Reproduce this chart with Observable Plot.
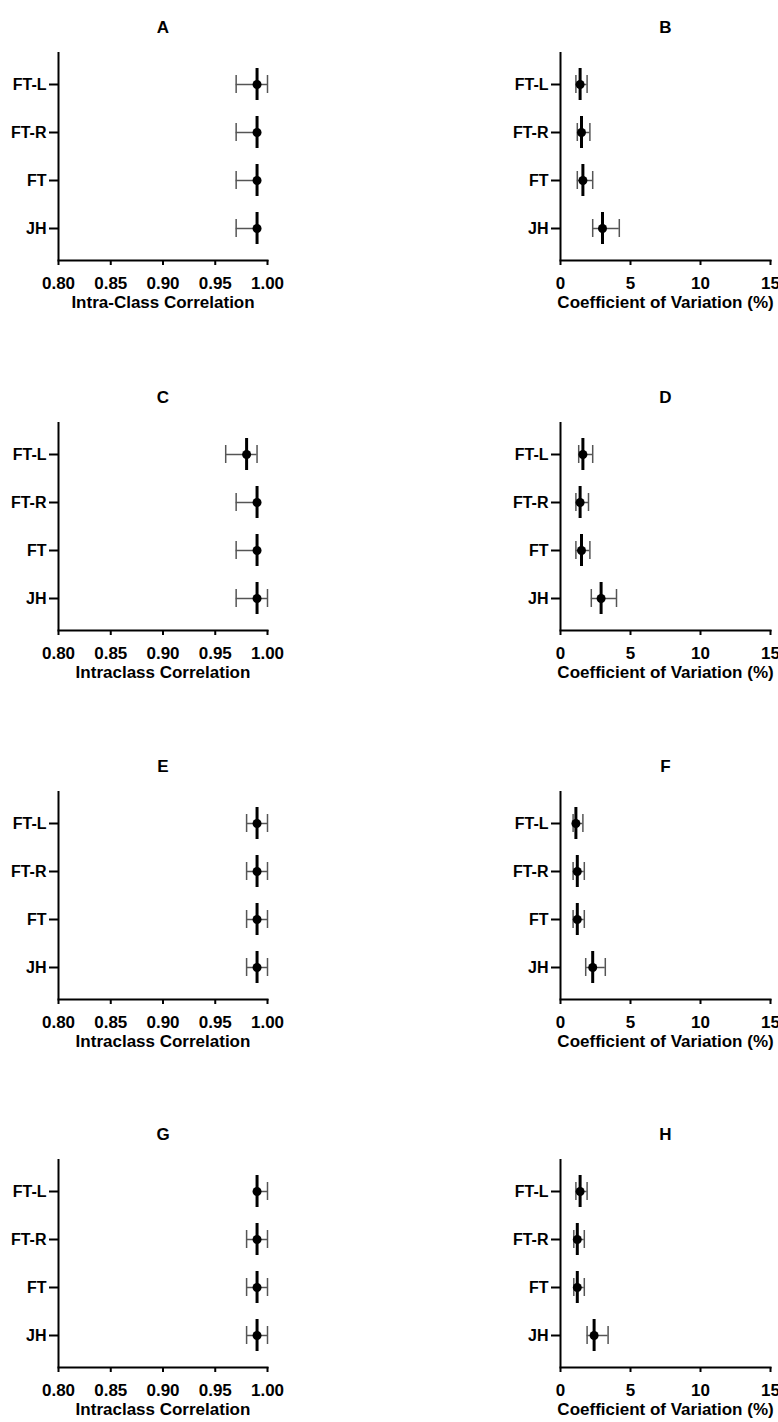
<!DOCTYPE html>
<html>
<head>
<meta charset="utf-8">
<script src="https://cdn.jsdelivr.net/npm/d3@7"></script>
<script src="https://cdn.jsdelivr.net/npm/@observablehq/plot@0.6"></script>
<style>
  html, body { margin: 0; padding: 0; background: #fff; }
  #fig { position: relative; width: 778px; height: 1422px; background: #fff; }
  .panel { position: absolute; }
</style>
</head>
<body>
<div id="fig"></div>
<script>
// ---------- data ----------
const categories = ["FT-L", "FT-R", "FT", "JH"];

const letters = ["A", "B", "C", "D", "E", "F", "G", "H"];
const xLabels = [
  "Intra-Class Correlation", "Coefficient of Variation (%)",
  "Intraclass Correlation", "Coefficient of Variation (%)",
  "Intraclass Correlation", "Coefficient of Variation (%)",
  "Intraclass Correlation", "Coefficient of Variation (%)"
];

const iccTicks = [0.80, 0.85, 0.90, 0.95, 1.00];
const cvTicks = [0, 5, 10, 15];

// ICC panels (A, C, E, G): estimate, lower, upper for FT-L, FT-R, FT, JH
const A_est = [0.99, 0.99, 0.99, 0.99];
const A_lo  = [0.97, 0.97, 0.97, 0.97];
const A_hi  = [1.00, 0.99, 0.99, 0.99];

const C_est = [0.98, 0.99, 0.99, 0.99];
const C_lo  = [0.96, 0.97, 0.97, 0.97];
const C_hi  = [0.99, 0.99, 0.99, 1.00];

const E_est = [0.99, 0.99, 0.99, 0.99];
const E_lo  = [0.98, 0.98, 0.98, 0.98];
const E_hi  = [1.00, 1.00, 1.00, 1.00];

const G_est = [0.99, 0.99, 0.99, 0.99];
const G_lo  = [0.99, 0.98, 0.98, 0.98];
const G_hi  = [1.00, 1.00, 1.00, 1.00];

// CV panels (B, D, F, H)
const B_est = [1.4, 1.5, 1.6, 3.0];
const B_lo  = [1.1, 1.2, 1.2, 2.3];
const B_hi  = [1.9, 2.1, 2.3, 4.2];

const D_est = [1.6, 1.4, 1.5, 2.9];
const D_lo  = [1.3, 1.1, 1.1, 2.2];
const D_hi  = [2.3, 2.0, 2.1, 4.0];

const F_est = [1.1, 1.2, 1.2, 2.3];
const F_lo  = [0.9, 0.9, 0.9, 1.8];
const F_hi  = [1.6, 1.7, 1.7, 3.2];

const H_est = [1.4, 1.2, 1.2, 2.4];
const H_lo  = [1.1, 0.95, 0.95, 1.9];
const H_hi  = [1.9, 1.7, 1.7, 3.4];

const panelData = [
  [A_est, A_lo, A_hi], [B_est, B_lo, B_hi],
  [C_est, C_lo, C_hi], [D_est, D_lo, D_hi],
  [E_est, E_lo, E_hi], [F_est, F_lo, F_hi],
  [G_est, G_lo, G_hi], [H_est, H_lo, H_hi]
];

// ---------- drawing ----------
const FONT = "'Liberation Sans', Arial, Helvetica, sans-serif";
const rowTops = [0, 370, 739, 1107];
const colLefts = [0, 389];

function makePanel(i) {
  const isICC = i % 2 === 0;
  const [est, lo, hi] = panelData[i];
  const rows = categories.map((c, k) => ({cat: c, est: est[k], lo: lo[k], hi: hi[k]}));
  const domain = isICC ? [0.80, 1.00] : [0, 15];
  const ticks = isICC ? iccTicks : cvTicks;
  const fmt = isICC ? d3.format(".2f") : d3.format("d");

  return Plot.plot({
    width: 389,
    height: 315,
    marginTop: 52,
    marginBottom: 55,
    marginLeft: isICC ? 58 : 171,
    marginRight: isICC ? 122 : 8,
    style: {fontFamily: FONT, fontSize: "16px", fontWeight: "bold", color: "black", background: "white", overflow: "visible"},
    x: {domain, label: null, axis: null},
    y: {type: "band", domain: categories, paddingInner: 0.629, paddingOuter: 0.454, label: null, axis: null},
    marks: [
      // axes
      Plot.axisX(ticks, {anchor: "bottom", tickSize: 5, tickPadding: 11, tickFormat: fmt,
        strokeWidth: 2, fontSize: 17, fontWeight: "bold", fill: "black", stroke: "black", label: null}),
      Plot.axisY({anchor: "left", tickSize: 9, tickPadding: 3, strokeWidth: 2,
        fontSize: 16, fontWeight: "bold", fill: "black", stroke: "black", label: null}),
      Plot.ruleX([domain[0]], {stroke: "black", strokeWidth: 2}),
      Plot.frame({anchor: "bottom", stroke: "black", strokeWidth: 2}),
      // error bars
      Plot.ruleY(rows, {y: "cat", x1: "lo", x2: "hi", stroke: "#555", strokeWidth: 1.5}),
      Plot.tickX(rows, {x: "lo", y: "cat", stroke: "#555", strokeWidth: 1.5}),
      Plot.tickX(rows, {x: "hi", y: "cat", stroke: "#555", strokeWidth: 1.5}),
      // estimate marker
      Plot.tickX(rows, {x: "est", y: "cat", stroke: "black", strokeWidth: 3, insetTop: -7, insetBottom: -7}),
      Plot.dot(rows, {x: "est", y: "cat", r: 4.5, fill: "black"}),
      // title and axis label
      Plot.text([letters[i]], {text: d => d, frameAnchor: "top", dy: -32, fontSize: 17, fontWeight: "bold", fill: "black"}),
      Plot.text([xLabels[i]], {text: d => d, frameAnchor: "bottom", dy: 47, fontSize: 17, fontWeight: "bold", fill: "black"})
    ]
  });
}

const fig = document.getElementById("fig");
for (let i = 0; i < 8; i++) {
  const el = makePanel(i);
  el.classList.add("panel");
  el.style.top = rowTops[Math.floor(i / 2)] + "px";
  el.style.left = colLefts[i % 2] + "px";
  el.style.position = "absolute";
  fig.appendChild(el);
}
</script>
</body>
</html>
